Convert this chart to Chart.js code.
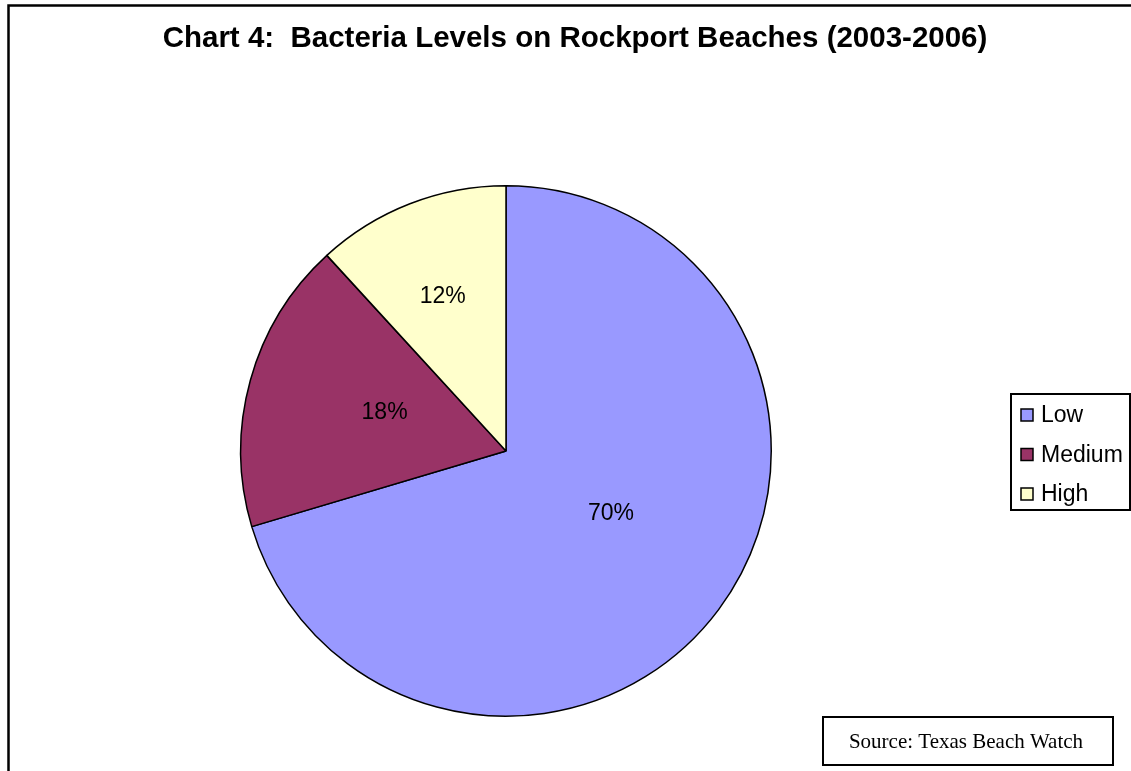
<!DOCTYPE html>
<html>
<head>
<meta charset="utf-8">
<script src="https://cdn.jsdelivr.net/npm/chart.js@4/dist/chart.umd.min.js"></script>
<style>
  html, body { margin: 0; padding: 0; background: #ffffff; }
  #wrap { width: 1131px; height: 771px; position: relative; }
</style>
</head>
<body>
<div id="wrap"><canvas id="c" width="1131" height="771"></canvas></div>
<script>
const titleText = "Chart 4:  Bacteria Levels on Rockport Beaches (2003-2006)";
const categories = ["Low", "Medium", "High"];
const shares = [70.4, 17.8, 11.8];
const sourceText = "Source: Texas Beach Watch";

const sliceColors = ["#9999FF", "#993366", "#FFFFCC"];
// label placement: fraction of radius, angle shift in degrees
const labelRadius = [0.46, 0.48, 0.63];
const labelShift = [-6, 2, -1];

const frame = {
  id: "frame",
  beforeDraw(chart) {
    const ctx = chart.ctx;
    ctx.save();
    ctx.fillStyle = "#ffffff";
    ctx.fillRect(0, 0, chart.width, chart.height);
    ctx.strokeStyle = "#000000";
    ctx.lineWidth = 2.5;
    ctx.strokeRect(8.5, 5.5, 1160, 800);
    ctx.fillStyle = "#000000";
    ctx.font = "bold 29.5px 'Liberation Sans', Arial, sans-serif";
    ctx.textAlign = "center";
    ctx.textBaseline = "middle";
    ctx.fillText(titleText, 575, 39);
    ctx.restore();
  },
  afterDatasetsDraw(chart) {
    const ctx = chart.ctx;
    const meta = chart.getDatasetMeta(0);
    const vals = chart.data.datasets[0].data;
    const total = vals.reduce((a, b) => a + b, 0);
    ctx.save();
    ctx.fillStyle = "#000000";
    ctx.font = "23px 'Liberation Sans', Arial, sans-serif";
    ctx.textAlign = "center";
    ctx.textBaseline = "middle";
    meta.data.forEach((arc, i) => {
      const p = arc.getProps(["x", "y", "startAngle", "endAngle", "outerRadius"], true);
      const mid = (p.startAngle + p.endAngle) / 2 + labelShift[i] * Math.PI / 180;
      const r = p.outerRadius * labelRadius[i];
      const pct = Math.round(vals[i] / total * 100) + "%";
      ctx.fillText(pct, p.x + Math.cos(mid) * r, p.y + Math.sin(mid) * r);
    });
    ctx.restore();

    // legend box
    ctx.save();
    ctx.fillStyle = "#ffffff";
    ctx.fillRect(1011, 394, 119, 116);
    ctx.strokeStyle = "#000000";
    ctx.lineWidth = 2;
    ctx.strokeRect(1011, 394, 119, 116);
    ctx.font = "23px 'Liberation Sans', Arial, sans-serif";
    ctx.textAlign = "left";
    ctx.textBaseline = "middle";
    chart.data.labels.forEach((lab, i) => {
      const cy = 415 + i * 39.5;
      ctx.fillStyle = chart.data.datasets[0].backgroundColor[i];
      ctx.fillRect(1021, cy - 6, 12, 12);
      ctx.lineWidth = 1.5;
      ctx.strokeStyle = "#000000";
      ctx.strokeRect(1021, cy - 6, 12, 12);
      ctx.fillStyle = "#000000";
      ctx.fillText(lab, 1041, cy + 1);
    });
    ctx.restore();

    // source box
    ctx.save();
    ctx.fillStyle = "#ffffff";
    ctx.fillRect(823, 717, 290, 48);
    ctx.strokeStyle = "#000000";
    ctx.lineWidth = 2;
    ctx.strokeRect(823, 717, 290, 48);
    ctx.fillStyle = "#000000";
    ctx.font = "21px 'Liberation Serif', 'Times New Roman', serif";
    ctx.textAlign = "center";
    ctx.textBaseline = "middle";
    ctx.fillText(sourceText, 966, 742);
    ctx.restore();
  }
};

new Chart(document.getElementById("c"), {
  type: "pie",
  data: {
    labels: categories,
    datasets: [{
      data: shares,
      backgroundColor: sliceColors,
      borderColor: "#000000",
      borderWidth: 1.5,
      borderAlign: "center"
    }]
  },
  options: {
    responsive: false,
    animation: false,
    rotation: 0,
    layout: { padding: { left: 240, right: 359, top: 185, bottom: 54 } },
    plugins: {
      legend: { display: false },
      title: { display: false },
      tooltip: { enabled: false }
    }
  },
  plugins: [frame]
});
</script>
</body>
</html>
